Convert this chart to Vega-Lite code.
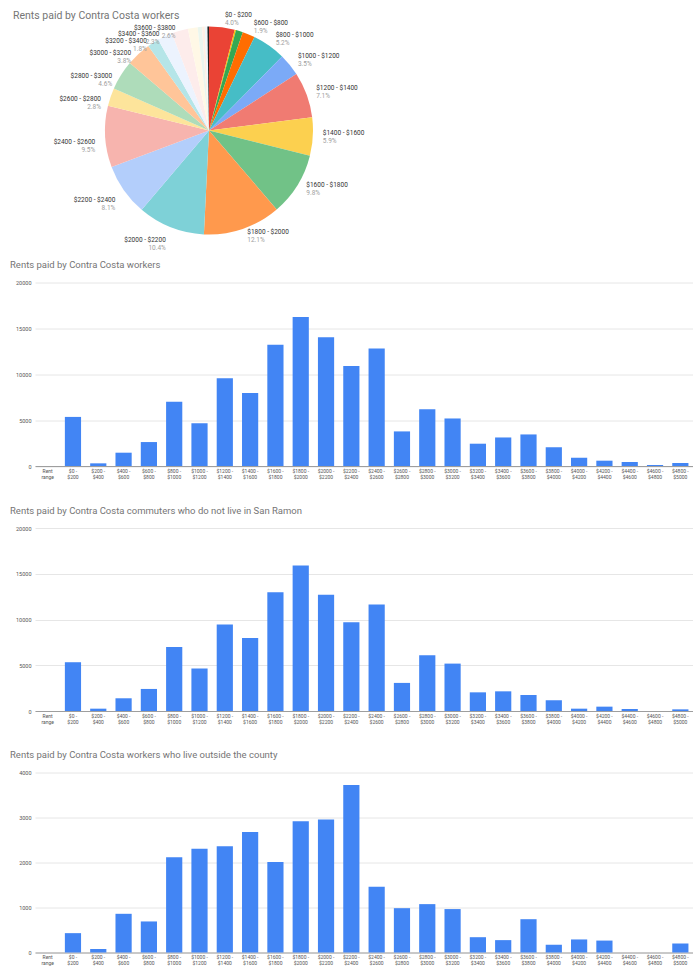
{
  "$schema": "https://vega.github.io/schema/vega-lite/v6.json",
  "autosize": {"type": "pad"},
  "padding": {"left": 10, "top": 11, "right": 0, "bottom": 2},
  "background": "white",
  "bounds": "flush",
  "spacing": 61.5,
  "config": {
    "font": "Roboto",
    "view": {"stroke": null},
    "title": {"anchor": "start", "color": "#757575", "fontWeight": "normal", "font": "Roboto", "frame": "group"},
    "axisX": {"title": null, "labelAngle": 0, "ticks": false, "domainColor": "#9e9e9e", "labelFontSize": 5, "labelColor": "#555555", "labelPadding": 2, "labelLineHeight": 6, "grid": false, "labelOverlap": false, "labelBound": false},
    "axisY": {"title": null, "domain": false, "ticks": false, "gridColor": "#e6e6e6", "labelFontSize": 5.5, "labelColor": "#555555", "labelPadding": 4, "format": "d"}
  },
  "datasets": {
    "rents": [
      {"range": "Rent range", "all": 0, "notSR": 0, "outside": 0, "pct": 0},
      {"range": "$0 - $200", "all": 5350, "notSR": 5330, "outside": 430, "pct": 0.040},
      {"range": "$200 - $400", "all": 290, "notSR": 255, "outside": 78, "pct": 0.002},
      {"range": "$400 - $600", "all": 1450, "notSR": 1390, "outside": 860, "pct": 0.011},
      {"range": "$600 - $800", "all": 2610, "notSR": 2410, "outside": 690, "pct": 0.019},
      {"range": "$800 - $1000", "all": 6990, "notSR": 7000, "outside": 2115, "pct": 0.052},
      {"range": "$1000 - $1200", "all": 4670, "notSR": 4640, "outside": 2305, "pct": 0.035},
      {"range": "$1200 - $1400", "all": 9560, "notSR": 9450, "outside": 2360, "pct": 0.071},
      {"range": "$1400 - $1600", "all": 7970, "notSR": 7990, "outside": 2680, "pct": 0.059},
      {"range": "$1600 - $1800", "all": 13220, "notSR": 12990, "outside": 2010, "pct": 0.098},
      {"range": "$1800 - $2000", "all": 16230, "notSR": 15910, "outside": 2915, "pct": 0.121},
      {"range": "$2000 - $2200", "all": 14020, "notSR": 12700, "outside": 2955, "pct": 0.104},
      {"range": "$2200 - $2400", "all": 10900, "notSR": 9710, "outside": 3725, "pct": 0.081},
      {"range": "$2400 - $2600", "all": 12820, "notSR": 11640, "outside": 1460, "pct": 0.095},
      {"range": "$2600 - $2800", "all": 3770, "notSR": 3070, "outside": 985, "pct": 0.028},
      {"range": "$2800 - $3000", "all": 6190, "notSR": 6100, "outside": 1075, "pct": 0.046},
      {"range": "$3000 - $3200", "all": 5180, "notSR": 5180, "outside": 965, "pct": 0.038},
      {"range": "$3200 - $3400", "all": 2430, "notSR": 2040, "outside": 340, "pct": 0.018},
      {"range": "$3400 - $3600", "all": 3110, "notSR": 2150, "outside": 275, "pct": 0.023},
      {"range": "$3600 - $3800", "all": 3440, "notSR": 1750, "outside": 740, "pct": 0.026},
      {"range": "$3800 - $4000", "all": 2030, "notSR": 1170, "outside": 170, "pct": 0.015},
      {"range": "$4000 - $4200", "all": 900, "notSR": 255, "outside": 290, "pct": 0.007},
      {"range": "$4200 - $4400", "all": 580, "notSR": 475, "outside": 265, "pct": 0.004},
      {"range": "$4400 - $4600", "all": 435, "notSR": 220, "outside": 0, "pct": 0.003},
      {"range": "$4600 - $4800", "all": 110, "notSR": 0, "outside": 0, "pct": 0.001},
      {"range": "$4800 - $5000", "all": 325, "notSR": 180, "outside": 200, "pct": 0.002}
    ]
  },
  "vconcat": [
    {
      "width": 348,
      "height": 181,
      "title": {"text": "Rents paid by Contra Costa workers", "fontSize": 10.5, "offset": -10, "dx": -22},
      "data": {"name": "rents"},
      "transform": [{"window": [{"op": "row_number", "as": "idx"}]}],
      "encoding": {
        "theta": {"field": "all", "type": "quantitative", "stack": true},
        "order": {"field": "idx", "type": "quantitative"}
      },
      "layer": [
        {
          "mark": {"type": "arc", "outerRadius": 104},
          "encoding": {
            "color": {
              "field": "range", "type": "nominal", "legend": null,
              "scale": {
                "domain": ["Rent range", "$0 - $200", "$200 - $400", "$400 - $600", "$600 - $800", "$800 - $1000", "$1000 - $1200", "$1200 - $1400", "$1400 - $1600", "$1600 - $1800", "$1800 - $2000", "$2000 - $2200", "$2200 - $2400", "$2400 - $2600", "$2600 - $2800", "$2800 - $3000", "$3000 - $3200", "$3200 - $3400", "$3400 - $3600", "$3600 - $3800", "$3800 - $4000", "$4000 - $4200", "$4200 - $4400", "$4400 - $4600", "$4600 - $4800", "$4800 - $5000"],
                "range": ["#4285F4", "#EA4335", "#FBBC04", "#34A853", "#FF6D01", "#46BDC6", "#7BAAF7", "#F07B72", "#FCD04F", "#71C287", "#FF994D", "#7ED1D7", "#B3CEFB", "#F7B4AE", "#FDE49B", "#AEDCBA", "#FFC599", "#B5E5E8", "#ECF3FE", "#FDECEB", "#FFF8E6", "#EBF6EE", "#FFF0E6", "#EDF8F9", "#E3EDFD", "#222222"]
              }
            }
          }
        },
        {
          "mark": {"type": "text", "radius": 112, "align": "left", "dx": 2, "dy": -4, "fontSize": 6.5, "color": "#333333"},
          "encoding": {"detail": {"field": "range"}, "text": {"condition": {"test": "datum.idx > 11 || datum.all < 2300", "value": ""}, "field": "range", "type": "nominal"}}
        },
        {
          "mark": {"type": "text", "radius": 112, "align": "left", "dx": 2, "dy": 4, "fontSize": 6.5, "color": "#9e9e9e"},
          "encoding": {"detail": {"field": "range"}, "text": {"condition": {"test": "datum.idx > 11 || datum.all < 2300", "value": ""}, "field": "pct", "type": "quantitative", "format": ".1%"}}
        },
        {
          "mark": {"type": "text", "radius": 112, "align": "right", "dx": -2, "dy": 5, "fontSize": 6.5, "color": "#333333"},
          "encoding": {"detail": {"field": "range"}, "text": {"condition": {"test": "datum.idx < 12 || datum.all < 2300", "value": ""}, "field": "range", "type": "nominal"}}
        },
        {
          "mark": {"type": "text", "radius": 112, "align": "right", "dx": -2, "dy": 13, "fontSize": 6.5, "color": "#9e9e9e"},
          "encoding": {"detail": {"field": "range"}, "text": {"condition": {"test": "datum.idx < 12 || datum.all < 2300", "value": ""}, "field": "pct", "type": "quantitative", "format": ".1%"}}
        }
      ]
    },
    {
      "width": 658,
      "height": 183.5,
      "title": {"text": "Rents paid by Contra Costa workers", "fontSize": 9.5, "offset": 11, "dx": -25},
      "data": {"name": "rents"},
      "mark": {"type": "bar", "color": "#4285F4"},
      "encoding": {
        "x": {"field": "range", "type": "nominal", "sort": null, "scale": {"paddingInner": 0.36, "paddingOuter": 0.18}, "axis": {"labelExpr": "datum.label == 'Rent range' ? ['Rent', 'range'] : [slice(datum.label, 0, indexof(datum.label, ' - ') + 2), slice(datum.label, indexof(datum.label, ' - ') + 3)]"}},
        "y": {"field": "all", "type": "quantitative", "scale": {"domain": [0, 20000]}, "axis": {"values": [0, 5000, 10000, 15000, 20000]}}
      }
    },
    {
      "width": 658,
      "height": 183,
      "title": {"text": "Rents paid by Contra Costa commuters who do not live in San Ramon", "fontSize": 9.5, "offset": 11, "dx": -25},
      "data": {"name": "rents"},
      "mark": {"type": "bar", "color": "#4285F4"},
      "encoding": {
        "x": {"field": "range", "type": "nominal", "sort": null, "scale": {"paddingInner": 0.36, "paddingOuter": 0.18}, "axis": {"labelExpr": "datum.label == 'Rent range' ? ['Rent', 'range'] : [slice(datum.label, 0, indexof(datum.label, ' - ') + 2), slice(datum.label, indexof(datum.label, ' - ') + 3)]"}},
        "y": {"field": "notSR", "type": "quantitative", "scale": {"domain": [0, 20000]}, "axis": {"values": [0, 5000, 10000, 15000, 20000]}}
      }
    },
    {
      "width": 658,
      "height": 180,
      "title": {"text": "Rents paid by Contra Costa workers who live outside the county", "fontSize": 9.5, "offset": 11, "dx": -25},
      "data": {"name": "rents"},
      "mark": {"type": "bar", "color": "#4285F4"},
      "encoding": {
        "x": {"field": "range", "type": "nominal", "sort": null, "scale": {"paddingInner": 0.36, "paddingOuter": 0.18}, "axis": {"labelExpr": "datum.label == 'Rent range' ? ['Rent', 'range'] : [slice(datum.label, 0, indexof(datum.label, ' - ') + 2), slice(datum.label, indexof(datum.label, ' - ') + 3)]"}},
        "y": {"field": "outside", "type": "quantitative", "scale": {"domain": [0, 4000]}, "axis": {"values": [0, 1000, 2000, 3000, 4000]}}
      }
    }
  ]
}
